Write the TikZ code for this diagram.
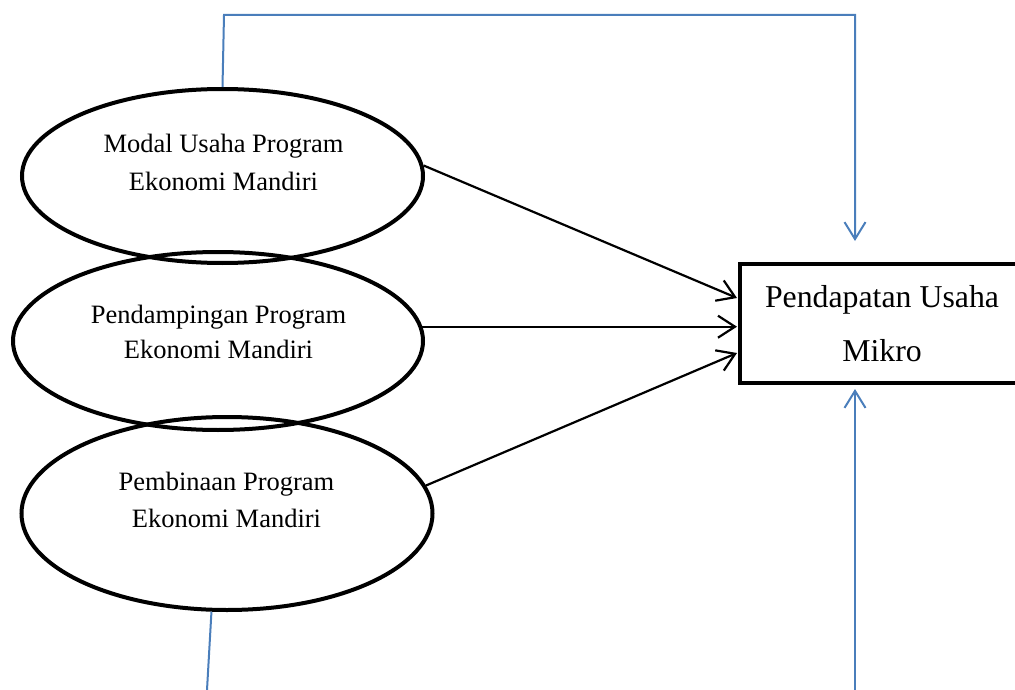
\documentclass[tikz,border=0pt]{standalone}
\usepackage{fontspec}
\setmainfont{Liberation Serif}
\usetikzlibrary{shapes.geometric,arrows.meta}
\definecolor{lineblue}{HTML}{4A7EBB}
\tikzset{
  oval/.style={ellipse, draw=black, line width=4pt, inner sep=0pt},
  ovaltext/.style={anchor=base, inner sep=0pt, font=\fontsize{26.5}{30}\selectfont},
  boxtext/.style={anchor=base, inner sep=0pt, font=\fontsize{31.8}{36}\selectfont},
  blk/.style={line width=2.2pt, -{Straight Barb[length=17pt,width=22pt,line width=2.2pt]}},
  blu/.style={draw=lineblue, line width=2pt},
  bluarrow/.style={blu, -{Straight Barb[length=17pt,width=21pt,line width=2pt]}}
}
\begin{document}
\begin{tikzpicture}[x=1pt,y=-1pt]
\useasboundingbox (0,0) rectangle (1015,690);
% ellipses
\node[oval, minimum width=401pt, minimum height=174pt] (e1) at (222.5,176) {};
\node[oval, minimum width=410pt, minimum height=178pt] (e2) at (218,341) {};
\node[oval, minimum width=411pt, minimum height=193pt] (e3) at (227,513.5) {};
% ellipse texts
\node[ovaltext] (t1a) at (223.5,153) {Modal Usaha Program};
\node[ovaltext] (t1b) at (223.5,190) {Ekonomi Mandiri};
\node[ovaltext] (t2a) at (218.5,323) {Pendampingan Program};
\node[ovaltext] (t2b) at (218.5,358) {Ekonomi Mandiri};
\node[ovaltext] (t3a) at (226.5,490) {Pembinaan Program};
\node[ovaltext] (t3b) at (226.5,527) {Ekonomi Mandiri};
% box
\node[draw, line width=4pt, minimum width=282pt, minimum height=118.5pt, inner sep=0pt] (box) at (881,323.25) {};
\node[boxtext] (bt1) at (882,307) {Pendapatan Usaha};
\node[boxtext] (bt2) at (882,361) {Mikro};
% black arrows
\coordinate (a1) at (737,298);
\coordinate (a3) at (737,353);
\draw[blk] (e1.3) -- (a1);
\draw[blk] (e2.4.5) -- (e2.4.5 -| 737,0);
\draw[blk] (e3.8) -- (a3);
% blue connectors
\coordinate (tl) at (224,15);
\coordinate (tr) at (855,241);
\draw[bluarrow] (e1.north) -- (tl) -| (tr);
\coordinate (bl) at (207,690);
\draw[blu] (e3.-99.7) -- (bl);
\coordinate (br0) at (855,690);
\coordinate (br1) at (855,389);
\draw[bluarrow] (br0) -- (br1);
\end{tikzpicture}
\end{document}
